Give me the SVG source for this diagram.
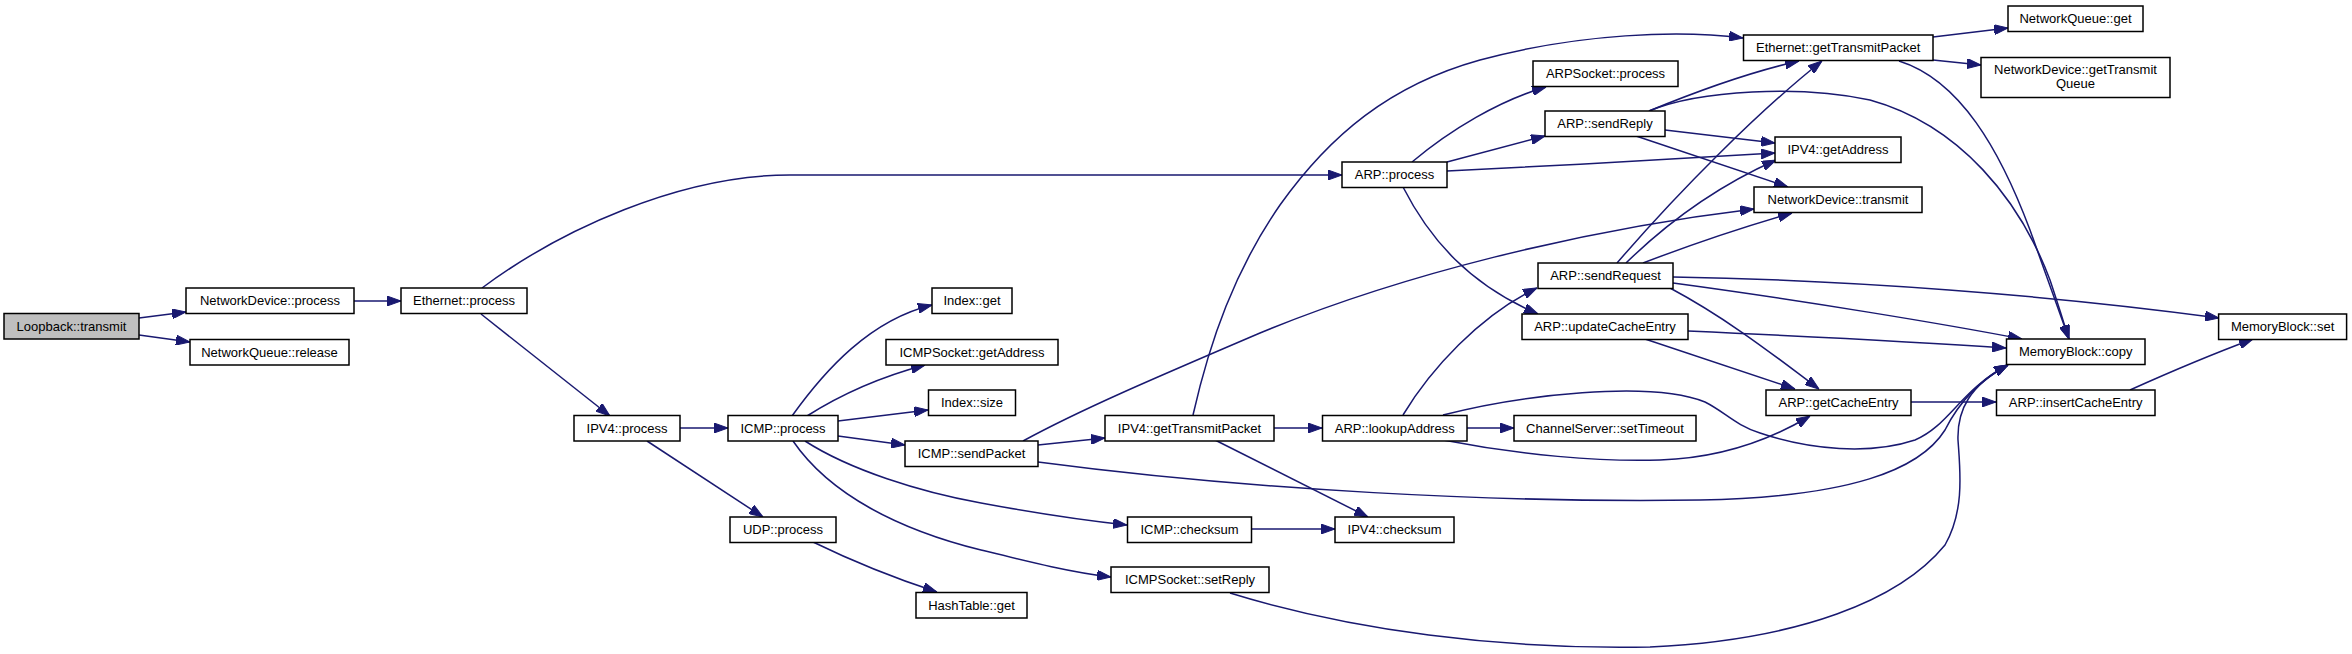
<svg xmlns="http://www.w3.org/2000/svg" width="2352" height="654" viewBox="0 0 2352 654">
<style>
.n rect{fill:#fff;stroke:#000;stroke-width:1.5}
.n text{font-family:"Liberation Sans",Arial,sans-serif;font-size:13px;text-anchor:middle;fill:#000}
#connectors path{fill:none;stroke:#191970;stroke-width:1.5;marker-end:url(#ah)}
</style>
<defs>
<marker id="ah" viewBox="0 0 14 10" refX="14" refY="5" markerWidth="14" markerHeight="10" markerUnits="userSpaceOnUse" orient="auto"><path d="M0,0L14,5L0,10z" fill="#191970" stroke="#191970" stroke-width="1"/></marker>
</defs>
<rect width="2352" height="654" fill="#fff"/>
<g id="connectors">
<path d="M139,318 L186,312"/>
<path d="M139,335 L190,342"/>
<path d="M354,301 L401,301"/>
<path d="M482,288 C560,230 680,175 790,175 L1342,175"/>
<path d="M481,314 L610,416"/>
<path d="M680,428 L728,428"/>
<path d="M647,441 L763,517"/>
<path d="M792,416 C825,370 870,320 932,305"/>
<path d="M807,416 C840,395 880,377 925,365"/>
<path d="M838,421 L928,410"/>
<path d="M838,436 L905,445"/>
<path d="M805,441 C850,470 920,492 981,503 C1040,514 1090,521 1127,525"/>
<path d="M793,441 C830,495 900,530 981,550 C1030,562 1070,572 1111,577"/>
<path d="M813,542 C850,560 900,580 937,592"/>
<path d="M1038,445 L1105,438"/>
<path d="M1023,441 C1080,410 1150,380 1260,333 C1400,275 1580,230 1754,209"/>
<path d="M1038,462 C1250,490 1500,503 1700,500 C1850,497 1920,470 1945,430 C1960,400 1980,380 2008,365"/>
<path d="M1230,593 C1350,630 1500,650 1650,647 C1800,640 1900,600 1945,545 C1965,510 1960,470 1958,440 C1957,410 1970,385 2008,365"/>
<path d="M1193,415 C1210,340 1235,270 1280,205 C1330,135 1390,85 1480,60 C1580,33 1680,30 1743,38"/>
<path d="M1274,428 L1322,428"/>
<path d="M1215,440 L1368,517"/>
<path d="M1252,529 L1335,529"/>
<path d="M1403,415 C1430,370 1480,315 1537,288"/>
<path d="M1467,428 L1514,428"/>
<path d="M1443,440 C1520,455 1600,462 1660,460 C1720,458 1770,440 1810,416"/>
<path d="M1443,415 C1520,395 1650,380 1705,402 C1725,412 1735,425 1760,433 C1810,450 1870,455 1915,440 C1950,425 1960,390 2008,365"/>
<path d="M1412,162 C1450,130 1500,100 1546,87"/>
<path d="M1447,162 L1545,136"/>
<path d="M1447,171 C1550,166 1700,158 1775,153"/>
<path d="M1403,187 C1430,240 1470,285 1538,314"/>
<path d="M1649,111 C1700,90 1750,72 1799,61"/>
<path d="M1649,111 C1700,90 1800,85 1870,100 C1960,125 2020,200 2050,280 C2060,310 2066,330 2069,339"/>
<path d="M1665,130 L1775,143"/>
<path d="M1636,136 L1788,187"/>
<path d="M1617,263 C1680,190 1760,110 1822,61"/>
<path d="M1626,263 C1670,220 1720,185 1776,160"/>
<path d="M1643,263 C1690,245 1740,228 1792,213"/>
<path d="M1673,277 C1850,280 2050,295 2219,318"/>
<path d="M1673,283 C1800,300 1950,325 2022,339"/>
<path d="M1670,288 C1730,320 1780,360 1819,389"/>
<path d="M1688,331 C1800,336 1920,342 2006,348"/>
<path d="M1645,339 L1795,389"/>
<path d="M1911,402 L1996,402"/>
<path d="M2130,390 C2170,372 2210,355 2253,339"/>
<path d="M1933,37 L2008,28"/>
<path d="M1933,60 L1981,65"/>
<path d="M1899,61 C1960,80 2000,150 2030,230 C2050,285 2062,320 2069,339"/>
</g>
<g id="n1" class="n"><rect x="4" y="313.5" width="135" height="25.5" style="fill:#bfbfbf"/><text x="71.5" y="330.5">Loopback::transmit</text></g>
<g id="n2" class="n"><rect x="186" y="288" width="168" height="25.5"/><text x="270" y="305">NetworkDevice::process</text></g>
<g id="n3" class="n"><rect x="190" y="339.5" width="159" height="25.5"/><text x="269.5" y="356.5">NetworkQueue::release</text></g>
<g id="n4" class="n"><rect x="401" y="288" width="126" height="25.5"/><text x="464" y="305">Ethernet::process</text></g>
<g id="n5" class="n"><rect x="574" y="415.5" width="106" height="25.5"/><text x="627" y="432.5">IPV4::process</text></g>
<g id="n6" class="n"><rect x="728" y="415.5" width="110" height="25.5"/><text x="783" y="432.5">ICMP::process</text></g>
<g id="n7" class="n"><rect x="730" y="517" width="106" height="25.5"/><text x="783" y="534">UDP::process</text></g>
<g id="n8" class="n"><rect x="932" y="288" width="80" height="25.5"/><text x="972" y="305">Index::get</text></g>
<g id="n9" class="n"><rect x="886" y="339.5" width="172" height="25.5"/><text x="972" y="356.5">ICMPSocket::getAddress</text></g>
<g id="n10" class="n"><rect x="928.5" y="390" width="87" height="25.5"/><text x="972" y="407">Index::size</text></g>
<g id="n11" class="n"><rect x="905" y="441" width="133" height="25.5"/><text x="971.5" y="458">ICMP::sendPacket</text></g>
<g id="n12" class="n"><rect x="916" y="592.5" width="111" height="25.5"/><text x="971.5" y="609.5">HashTable::get</text></g>
<g id="n13" class="n"><rect x="1105" y="415.5" width="169" height="25.5"/><text x="1189.5" y="432.5">IPV4::getTransmitPacket</text></g>
<g id="n14" class="n"><rect x="1127.5" y="517" width="124" height="25.5"/><text x="1189.5" y="534">ICMP::checksum</text></g>
<g id="n15" class="n"><rect x="1111" y="567" width="158" height="25.5"/><text x="1190" y="584">ICMPSocket::setReply</text></g>
<g id="n16" class="n"><rect x="1342" y="162" width="105" height="25.5"/><text x="1394.5" y="179">ARP::process</text></g>
<g id="n17" class="n"><rect x="1322.5" y="415.5" width="144.5" height="25.5"/><text x="1394.7" y="432.5">ARP::lookupAddress</text></g>
<g id="n18" class="n"><rect x="1335" y="517" width="119" height="25.5"/><text x="1394.5" y="534">IPV4::checksum</text></g>
<g id="n19" class="n"><rect x="1533" y="61" width="145" height="25.5"/><text x="1605.5" y="78">ARPSocket::process</text></g>
<g id="n20" class="n"><rect x="1545" y="111" width="120" height="25.5"/><text x="1605" y="128">ARP::sendReply</text></g>
<g id="n21" class="n"><rect x="1538" y="263" width="135" height="25.5"/><text x="1605.5" y="280">ARP::sendRequest</text></g>
<g id="n22" class="n"><rect x="1522" y="314" width="166" height="25.5"/><text x="1605" y="331">ARP::updateCacheEntry</text></g>
<g id="n23" class="n"><rect x="1514" y="415.5" width="182" height="25.5"/><text x="1605" y="432.5">ChannelServer::setTimeout</text></g>
<g id="n24" class="n"><rect x="1743.5" y="35" width="189.5" height="25.5"/><text x="1838.2" y="52">Ethernet::getTransmitPacket</text></g>
<g id="n25" class="n"><rect x="1775" y="137" width="126" height="25.5"/><text x="1838" y="154">IPV4::getAddress</text></g>
<g id="n26" class="n"><rect x="1754" y="187" width="168" height="25.5"/><text x="1838" y="204">NetworkDevice::transmit</text></g>
<g id="n27" class="n"><rect x="1766" y="390" width="145" height="25.5"/><text x="1838.5" y="407">ARP::getCacheEntry</text></g>
<g id="n28" class="n"><rect x="2008" y="6" width="135" height="25.5"/><text x="2075.5" y="23">NetworkQueue::get</text></g>
<g id="n29" class="n"><rect x="1981" y="57.5" width="189" height="40"/><text x="2075.5" y="73.5">NetworkDevice::getTransmit</text><text x="2075.5" y="88">Queue</text></g>
<g id="n30" class="n"><rect x="2006.5" y="339" width="138.5" height="25.5"/><text x="2075.7" y="356">MemoryBlock::copy</text></g>
<g id="n31" class="n"><rect x="1996.5" y="390" width="158.5" height="25.5"/><text x="2075.7" y="407">ARP::insertCacheEntry</text></g>
<g id="n32" class="n"><rect x="2218.6" y="314" width="128" height="25.5"/><text x="2282.6" y="331">MemoryBlock::set</text></g>
</svg>
